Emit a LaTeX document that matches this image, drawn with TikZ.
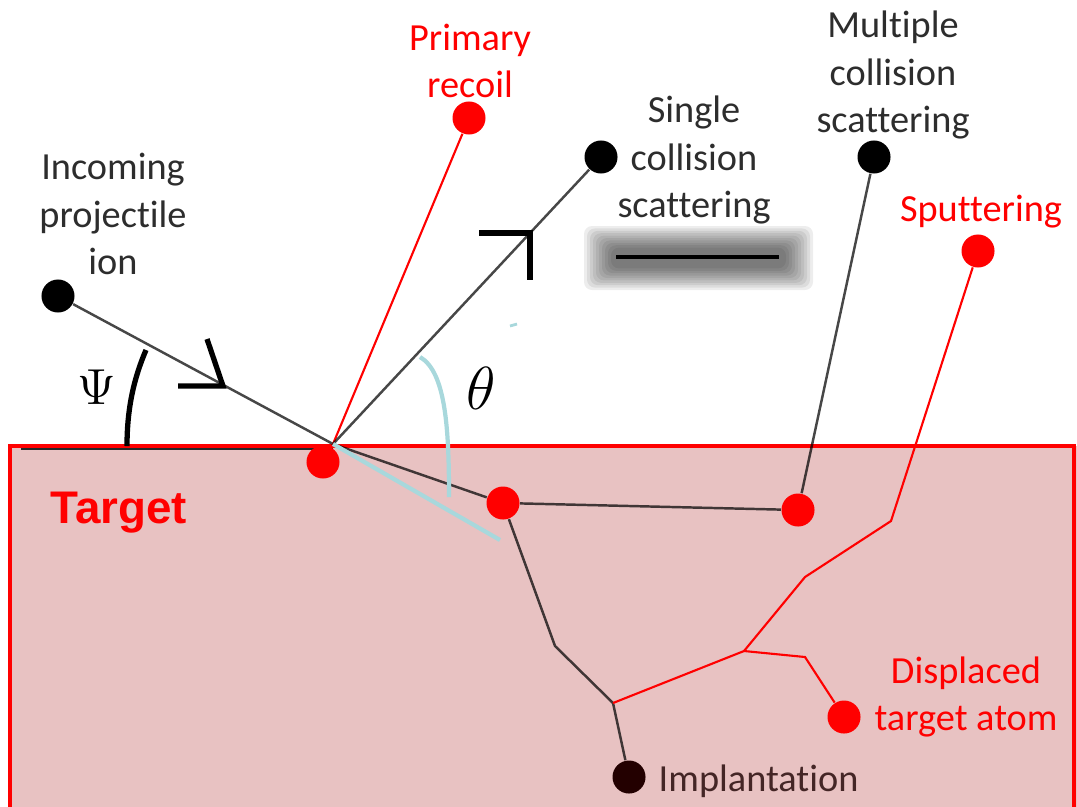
\documentclass[tikz,border=0pt]{standalone}
\usepackage{fontspec}
\setmainfont{Carlito}[Ligatures=NoCommon]
\newfontfamily\arialfont{Liberation Sans}
\definecolor{tgtfill}{RGB}{232,194,194}
\definecolor{lblue}{RGB}{168,216,220}
\definecolor{txtgray}{RGB}{45,45,45}
\definecolor{implc}{RGB}{35,0,0}
\pgfdeclarelayer{back}
\pgfdeclarelayer{lines}
\pgfsetlayers{back,lines,main}
\begin{document}
\begin{tikzpicture}[x=0.01cm,y=-0.01cm,
  dot/.style={circle,inner sep=0pt,minimum size=0.33cm},
  rdot/.style={dot,fill=red},
  bdot/.style={dot,fill=black},
  lbl/.style={font=\fontsize{10.9}{13.5}\selectfont,text=txtgray,align=center,inner sep=0pt},
  rlbl/.style={lbl,text=red},
  traj/.style={draw=black,draw opacity=0.72,line width=0.7pt},
  rtraj/.style={draw=red,line width=0.6pt},
  chev/.style={draw=black,line width=1.5pt},
  bluel/.style={draw=lblue,line width=1.2pt}]
\useasboundingbox (0,0) rectangle (1077,806);
% target
\begin{pgfonlayer}{back}
\fill[tgtfill] (10,446) rectangle (1077,830);
\draw[red,line width=1.3pt] (10,840) -- (10,446) -- (1074,446) -- (1074,840);
\draw[black!85,line width=0.6pt] (21,449) -- (333,449);
\end{pgfonlayer}
% dots
\coordinate (hit) at (333,444);
\node[bdot] (ion) at (58,296) {};
\node[rdot] (pka) at (323,462) {};
\node[rdot] (rec) at (469,118) {};
\node[bdot] (ssc) at (601,157) {};
\node[bdot] (msc) at (874,157) {};
\node[rdot] (spt) at (978,251) {};
\node[rdot] (c1) at (503,503) {};
\node[rdot] (c2) at (798,510) {};
\node[dot,fill=implc] (imp) at (629,777) {};
\node[rdot] (dis) at (844,717) {};
\coordinate (j1) at (555,646);
\coordinate (j2) at (613,703);
\coordinate (r1) at (744,651);
\coordinate (r2) at (805,577);
\coordinate (r3) at (891,521);
\coordinate (b1) at (805,657);
\coordinate (lb) at (500,540);
% trajectories
\begin{pgfonlayer}{lines}
\draw[traj] (ion) -- (hit);
\draw[rtraj] (hit) -- (rec);
\draw[traj] (hit) -- (ssc);
\draw[traj] (hit) -- (c1) -- (c2) -- (msc);
\draw[traj] (c1) -- (j1) -- (j2) -- (imp);
\draw[rtraj] (j2) -- (r1) -- (r2) -- (r3) -- (spt);
\draw[rtraj] (r1) -- (b1) -- (dis);
\draw[bluel] (hit) -- (lb);
\draw[bluel] (420,357) .. controls (446,372) and (449,430) .. (449,497);
\draw[lblue,line width=0.8pt] (510,326) -- (517,324);
\end{pgfonlayer}
% angle marks
\draw[chev] (127,446) .. controls (127,408) and (134,378) .. (146,350);
\draw[chev] (178,386) -- (223,386) -- (207,339);
\draw[chev] (479,233) -- (530,233) -- (530,280);
% blurred bar
\foreach \i in {0,...,9}
  \fill[black,opacity=0.07,rounded corners=0.08cm] (584+3*\i,226+2.4*\i) rectangle (813-3*\i,290-2.4*\i);
\draw[black,line width=1.4pt] (616,257) -- (779,257);
% labels
\node[lbl] (tin) at (113,214) {Incoming\\projectile\\ion};
\node[rlbl] (trec) at (470,61) {Primary\\recoil};
\node[lbl] (tssc) at (694,160) {Single\\collision\\scattering};
\node[lbl] (tmsc) at (893,75) {Multiple\\collision\\scattering};
\node[rlbl] (tspt) at (981,212) {Sputtering};
\node[rlbl] (tdis) at (966,697) {Displaced\\target atom};
\node[lbl,anchor=west,text=implc!85] (timp) at (658,781) {Implantation};
\node[font=\arialfont\bfseries\fontsize{13}{15}\selectfont,text=red,anchor=base west,inner sep=0pt] (ttgt) at (50,523) {Target};
\node[font=\fontsize{13.3}{15}\selectfont,inner sep=0pt] (psi) at (97,387) {$\Psi$};
\node[font=\fontsize{17.5}{20}\selectfont,inner sep=0pt] (th) at (481,388) {$\theta$};
\end{tikzpicture}
\end{document}
